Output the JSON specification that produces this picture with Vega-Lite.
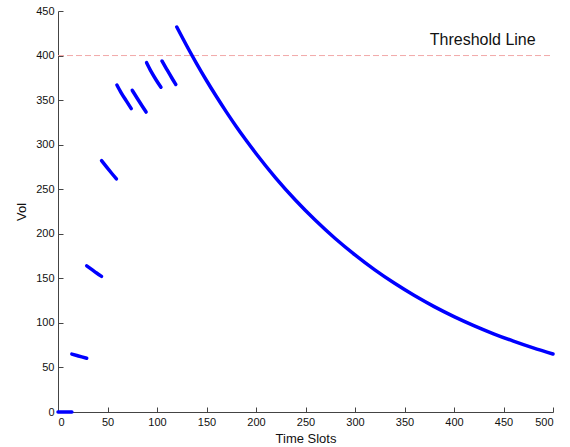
{
  "$schema": "https://vega.github.io/schema/vega-lite/v6.json",
  "autosize": "none",
  "width": 495,
  "height": 401,
  "padding": {"left": 58, "top": 11, "right": 17, "bottom": 35},
  "background": "white",
  "config": {
    "view": {"stroke": null},
    "font": "Liberation Sans",
    "axis": {
      "grid": false,
      "domainColor": "#444444",
      "tickColor": "#444444",
      "tickSize": -5,
      "labelPadding": 9,
      "labelFontSize": 11,
      "labelColor": "#111111",
      "titleFontSize": 13,
      "titleFontWeight": "normal",
      "titleColor": "#111111"
    }
  },
  "layer": [
    {
      "data": {"values": [{"t": 0, "x0": 0, "x1": 500, "y": 400}]},
      "mark": {"type": "rule", "color": "#f2a8a8", "strokeWidth": 1, "strokeDash": [6, 3]},
      "encoding": {
        "x": {"field": "x0", "type": "quantitative"},
        "x2": {"field": "x1"},
        "y": {"field": "y", "type": "quantitative"}
      }
    },
    {
      "data": {"values": [
        {"seg": 0, "x": 0, "y": 0}, {"seg": 0, "x": 14, "y": 0},
        {"seg": 1, "x": 14, "y": 65}, {"seg": 1, "x": 19, "y": 63.4}, {"seg": 1, "x": 24, "y": 61.8}, {"seg": 1, "x": 29, "y": 60.3},
        {"seg": 2, "x": 29, "y": 164}, {"seg": 2, "x": 34, "y": 160}, {"seg": 2, "x": 39, "y": 156}, {"seg": 2, "x": 44, "y": 152.2},
        {"seg": 3, "x": 44, "y": 282}, {"seg": 3, "x": 49, "y": 275}, {"seg": 3, "x": 54, "y": 268.2}, {"seg": 3, "x": 59, "y": 261.6},
        {"seg": 4, "x": 59.5, "y": 367}, {"seg": 4, "x": 64, "y": 357.9}, {"seg": 4, "x": 69, "y": 349.1}, {"seg": 4, "x": 74, "y": 340.5},
        {"seg": 5, "x": 75, "y": 361}, {"seg": 5, "x": 80, "y": 352.1}, {"seg": 5, "x": 85, "y": 343.4}, {"seg": 5, "x": 89, "y": 336.6},
        {"seg": 6, "x": 89.5, "y": 392}, {"seg": 6, "x": 94, "y": 382.3}, {"seg": 6, "x": 99, "y": 372.9}, {"seg": 6, "x": 104, "y": 364.5},
        {"seg": 7, "x": 105, "y": 394}, {"seg": 7, "x": 110, "y": 384.3}, {"seg": 7, "x": 115, "y": 374.8}, {"seg": 7, "x": 119, "y": 367.5},
        {"seg": 8, "x": 120, "y": 432}, {"seg": 8, "x": 130, "y": 411}, {"seg": 8, "x": 140, "y": 391}, {"seg": 8, "x": 150, "y": 372},
        {"seg": 8, "x": 160, "y": 354}, {"seg": 8, "x": 170, "y": 336.8}, {"seg": 8, "x": 180, "y": 320.4}, {"seg": 8, "x": 190, "y": 304.9},
        {"seg": 8, "x": 200, "y": 290.1}, {"seg": 8, "x": 220, "y": 262.5}, {"seg": 8, "x": 240, "y": 237.6}, {"seg": 8, "x": 260, "y": 215.1},
        {"seg": 8, "x": 280, "y": 194.7}, {"seg": 8, "x": 300, "y": 176.3}, {"seg": 8, "x": 320, "y": 159.5}, {"seg": 8, "x": 340, "y": 144.4},
        {"seg": 8, "x": 360, "y": 130.7}, {"seg": 8, "x": 380, "y": 118.3}, {"seg": 8, "x": 400, "y": 107.1}, {"seg": 8, "x": 420, "y": 97},
        {"seg": 8, "x": 440, "y": 87.8}, {"seg": 8, "x": 460, "y": 79.5}, {"seg": 8, "x": 480, "y": 71.9}, {"seg": 8, "x": 500, "y": 65.1}
      ]},
      "mark": {"type": "line", "color": "#0000ff", "strokeWidth": 3.5, "strokeCap": "round", "strokeJoin": "round", "interpolate": "monotone"},
      "encoding": {
        "x": {"field": "x", "type": "quantitative", "scale": {"domain": [0, 500], "nice": false},
              "axis": {"title": "Time Slots", "values": [0, 50, 100, 150, 200, 250, 300, 350, 400, 450, 500], "titlePadding": 5}},
        "y": {"field": "y", "type": "quantitative", "scale": {"domain": [0, 450], "nice": false},
              "axis": {"title": "Vol", "values": [0, 50, 100, 150, 200, 250, 300, 350, 400, 450], "titlePadding": 7}},
        "detail": {"field": "seg", "type": "nominal"}
      }
    },
    {
      "data": {"values": [{"label": "Threshold Line", "x": 429, "y": 417}]},
      "mark": {"type": "text", "fontSize": 16, "color": "#111111", "align": "center", "baseline": "middle"},
      "encoding": {
        "x": {"field": "x", "type": "quantitative"},
        "y": {"field": "y", "type": "quantitative"},
        "text": {"field": "label"}
      }
    }
  ]
}
